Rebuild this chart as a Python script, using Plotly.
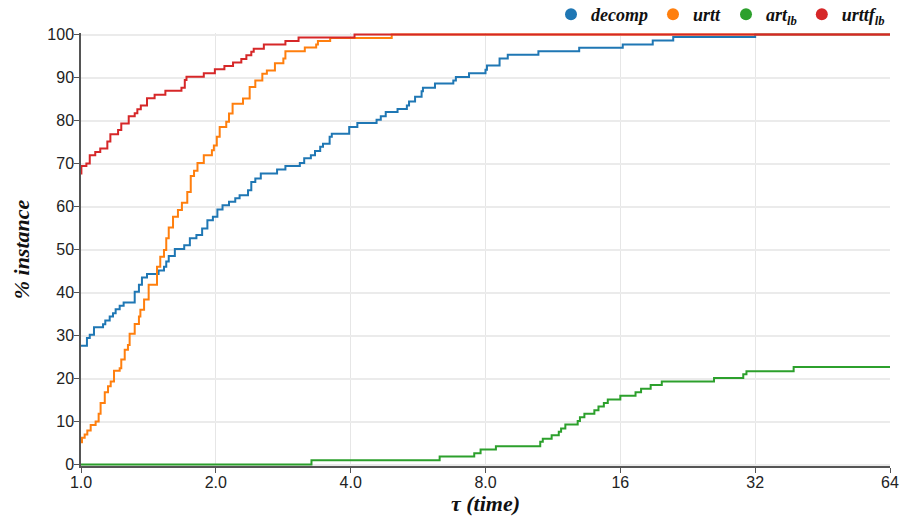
import plotly.graph_objects as go

# ---- data (tau = performance ratio, pct = % of instances) ----
decomp_tau = [1.0, 1.031, 1.046, 1.069, 1.12, 1.133, 1.159, 1.179, 1.195, 1.22, 1.245, 1.318, 1.347, 1.368, 1.404,
              1.49, 1.532, 1.55, 1.57, 1.62, 1.70, 1.75, 1.81, 1.864, 1.915, 1.97, 2.016, 2.07, 2.14, 2.21, 2.26,
              2.36, 2.40, 2.45, 2.52, 2.74, 2.86, 3.08, 3.15, 3.26, 3.33, 3.42, 3.47, 3.59, 3.63, 3.97, 4.14, 4.57,
              4.67, 4.79, 5.09, 5.34, 5.40, 5.57, 5.76, 5.80, 6.17, 6.78, 6.87, 7.35, 8.0, 8.06, 8.6, 8.97, 10.5,
              12.95, 16.2, 18.9, 21.0, 32.0, 64]
decomp_pct = [27.6, 29.4, 30.2, 31.9, 32.6, 33.5, 34.4, 35.2, 36.1, 36.9, 37.7, 40.2, 41.8, 43.5, 44.3, 45.1, 46.0,
              47.2, 48.5, 50.1, 51.0, 52.6, 53.4, 54.9, 56.8, 57.6, 59.3, 60.3, 61.1, 61.9, 62.6, 63.8, 65.7, 66.5,
              67.7, 68.6, 69.4, 70.1, 71.2, 71.9, 72.9, 73.9, 74.6, 76.2, 76.9, 78.5, 79.4, 80.2, 81.0, 82.0, 82.7,
              83.5, 84.4, 85.5, 86.8, 87.6, 88.6, 89.3, 90.1, 91.0, 91.8, 92.8, 94.4, 95.3, 96.1, 96.9, 97.7, 98.6,
              99.4, 100, 100]

urtt_tau = [1.0, 1.005, 1.019, 1.033, 1.051, 1.078, 1.095, 1.106, 1.13, 1.149, 1.165, 1.185, 1.22, 1.23, 1.252,
            1.273, 1.284, 1.318, 1.347, 1.357, 1.383, 1.416, 1.478, 1.503, 1.532, 1.55, 1.57, 1.605, 1.646, 1.68,
            1.727, 1.758, 1.788, 1.82, 1.88, 1.96, 1.98, 2.01, 2.04, 2.11, 2.14, 2.18, 2.30, 2.38, 2.45, 2.54, 2.6,
            2.71, 2.83, 2.86, 3.16, 3.35, 3.38, 3.6, 4.94, 64]
urtt_pct = [5.2, 6.2, 7.0, 7.9, 9.2, 10.0, 11.8, 14.3, 16.8, 18.2, 19.3, 21.8, 22.4, 24.4, 26.7, 27.8, 30.4, 32.7,
            34.4, 36.0, 38.4, 41.8, 46.0, 48.3, 49.9, 52.6, 55.1, 57.6, 59.2, 60.9, 63.4, 67.1, 68.3, 70.1, 71.9,
            73.1, 74.2, 76.2, 78.5, 79.7, 81.6, 83.9, 85.1, 87.8, 89.3, 90.9, 91.6, 93.3, 94.4, 96.1, 97.0, 97.7,
            98.5, 99.2, 100, 100]

artlb_tau = [1.0, 3.27, 6.32, 7.55, 7.8, 8.44, 10.6, 10.74, 11.24, 11.66, 11.8, 12.06, 12.85, 13.0, 13.3, 14.0,
             14.3, 14.7, 15.0, 16.0, 17.3, 17.8, 18.7, 19.8, 25.9, 30.1, 30.6, 39.0, 64]
artlb_pct = [0, 1.0, 1.86, 2.6, 3.5, 4.25, 5.3, 6.0, 6.8, 7.6, 8.35, 9.3, 10.1, 11.0, 11.8, 12.6, 13.5, 14.3, 15.1,
             16.0, 16.8, 17.6, 18.5, 19.3, 20.1, 21.0, 21.7, 22.7, 22.7]

urttf_tau = [1.0, 1.002, 1.028, 1.046, 1.076, 1.104, 1.145, 1.163, 1.21, 1.23, 1.278, 1.318, 1.336, 1.36, 1.404,
             1.46, 1.543, 1.676, 1.705, 1.72, 1.88, 1.99, 2.09, 2.185, 2.28, 2.34, 2.40, 2.43, 2.56, 2.86, 3.06,
             4.08, 64]
urttf_pct = [67.7, 69.4, 70.0, 71.9, 72.7, 73.5, 75.1, 76.8, 77.8, 79.3, 81.0, 81.7, 82.6, 83.5, 85.2, 86.0, 86.9,
             87.6, 89.4, 90.2, 91.0, 91.9, 92.7, 93.5, 94.3, 95.2, 96.0, 96.7, 97.7, 98.5, 99.3, 100, 100]

series_names = ["decomp", "urtt", "art<sub>lb</sub>", "urttf<sub>lb</sub>"]
series_colors = ["#1f77b4", "#ff7f0e", "#2ca02c", "#d62728"]
series_x = [decomp_tau, urtt_tau, artlb_tau, urttf_tau]
series_y = [decomp_pct, urtt_pct, artlb_pct, urttf_pct]

x_tickvals = [1, 2, 4, 8, 16, 32, 64]
x_ticktext = ["1.0", "2.0", "4.0", "8.0", "16", "32", "64"]
y_tickvals = [0, 10, 20, 30, 40, 50, 60, 70, 80, 90, 100]

fig = go.Figure()
for i, (name, col, xs, ys) in enumerate(zip(series_names, series_colors, series_x, series_y)):
    fig.add_trace(go.Scatter(x=xs, y=ys, mode="lines", line=dict(color=col, width=2, shape="hv"),
                             name=name, legendgroup=str(i), showlegend=False))
for i, (name, col) in enumerate(zip(series_names, series_colors)):
    fig.add_trace(go.Scatter(x=[None], y=[None], mode="markers", marker=dict(color=col, size=11, symbol="circle"),
                             name=name, legendgroup=str(i), showlegend=True))

title_font = dict(family="Liberation Serif", size=22, color="#111", weight="bold", style="italic")

fig.update_layout(
    width=900, height=518,
    margin=dict(l=81, r=10, t=33, b=52, autoexpand=False),
    plot_bgcolor="white", paper_bgcolor="white",
    showlegend=True,
    legend=dict(orientation="h", x=1.0, xanchor="right", y=1.0, yanchor="bottom",
                font=dict(family="Liberation Serif", size=18, color="#111", weight="bold", style="italic"),
                itemsizing="constant", tracegroupgap=0, bgcolor="rgba(0,0,0,0)"),
    xaxis=dict(type="log", range=[0, 1.80618], tickvals=x_tickvals, ticktext=x_ticktext, automargin=False,
               showgrid=True, gridcolor="#e6e6e6", gridwidth=1, zeroline=False,
               showline=True, linecolor="#555", linewidth=1.5, ticks="outside", ticklen=5, tickcolor="#555",
               ticklabelstandoff=-4,
               tickfont=dict(family="Liberation Sans", size=16, color="#222"),
               title=dict(text="τ (time)", font=title_font, standoff=2)),
    yaxis=dict(range=[-0.35, 100.35], tickvals=y_tickvals, showgrid=True, gridcolor="#ebebeb", gridwidth=1.5,
               automargin=False, ticklabelstandoff=-3,
               zeroline=False, showline=True, linecolor="#555", linewidth=1.5, ticks="outside", ticklen=5,
               tickcolor="#555", tickfont=dict(family="Liberation Sans", size=16, color="#222"),
               title=dict(text="% instance", font=title_font, standoff=12)),
)

fig.write_html("out.html", config={"displayModeBar": False},
               post_script="document.body.style.margin='0';document.body.style.overflow='hidden';")
